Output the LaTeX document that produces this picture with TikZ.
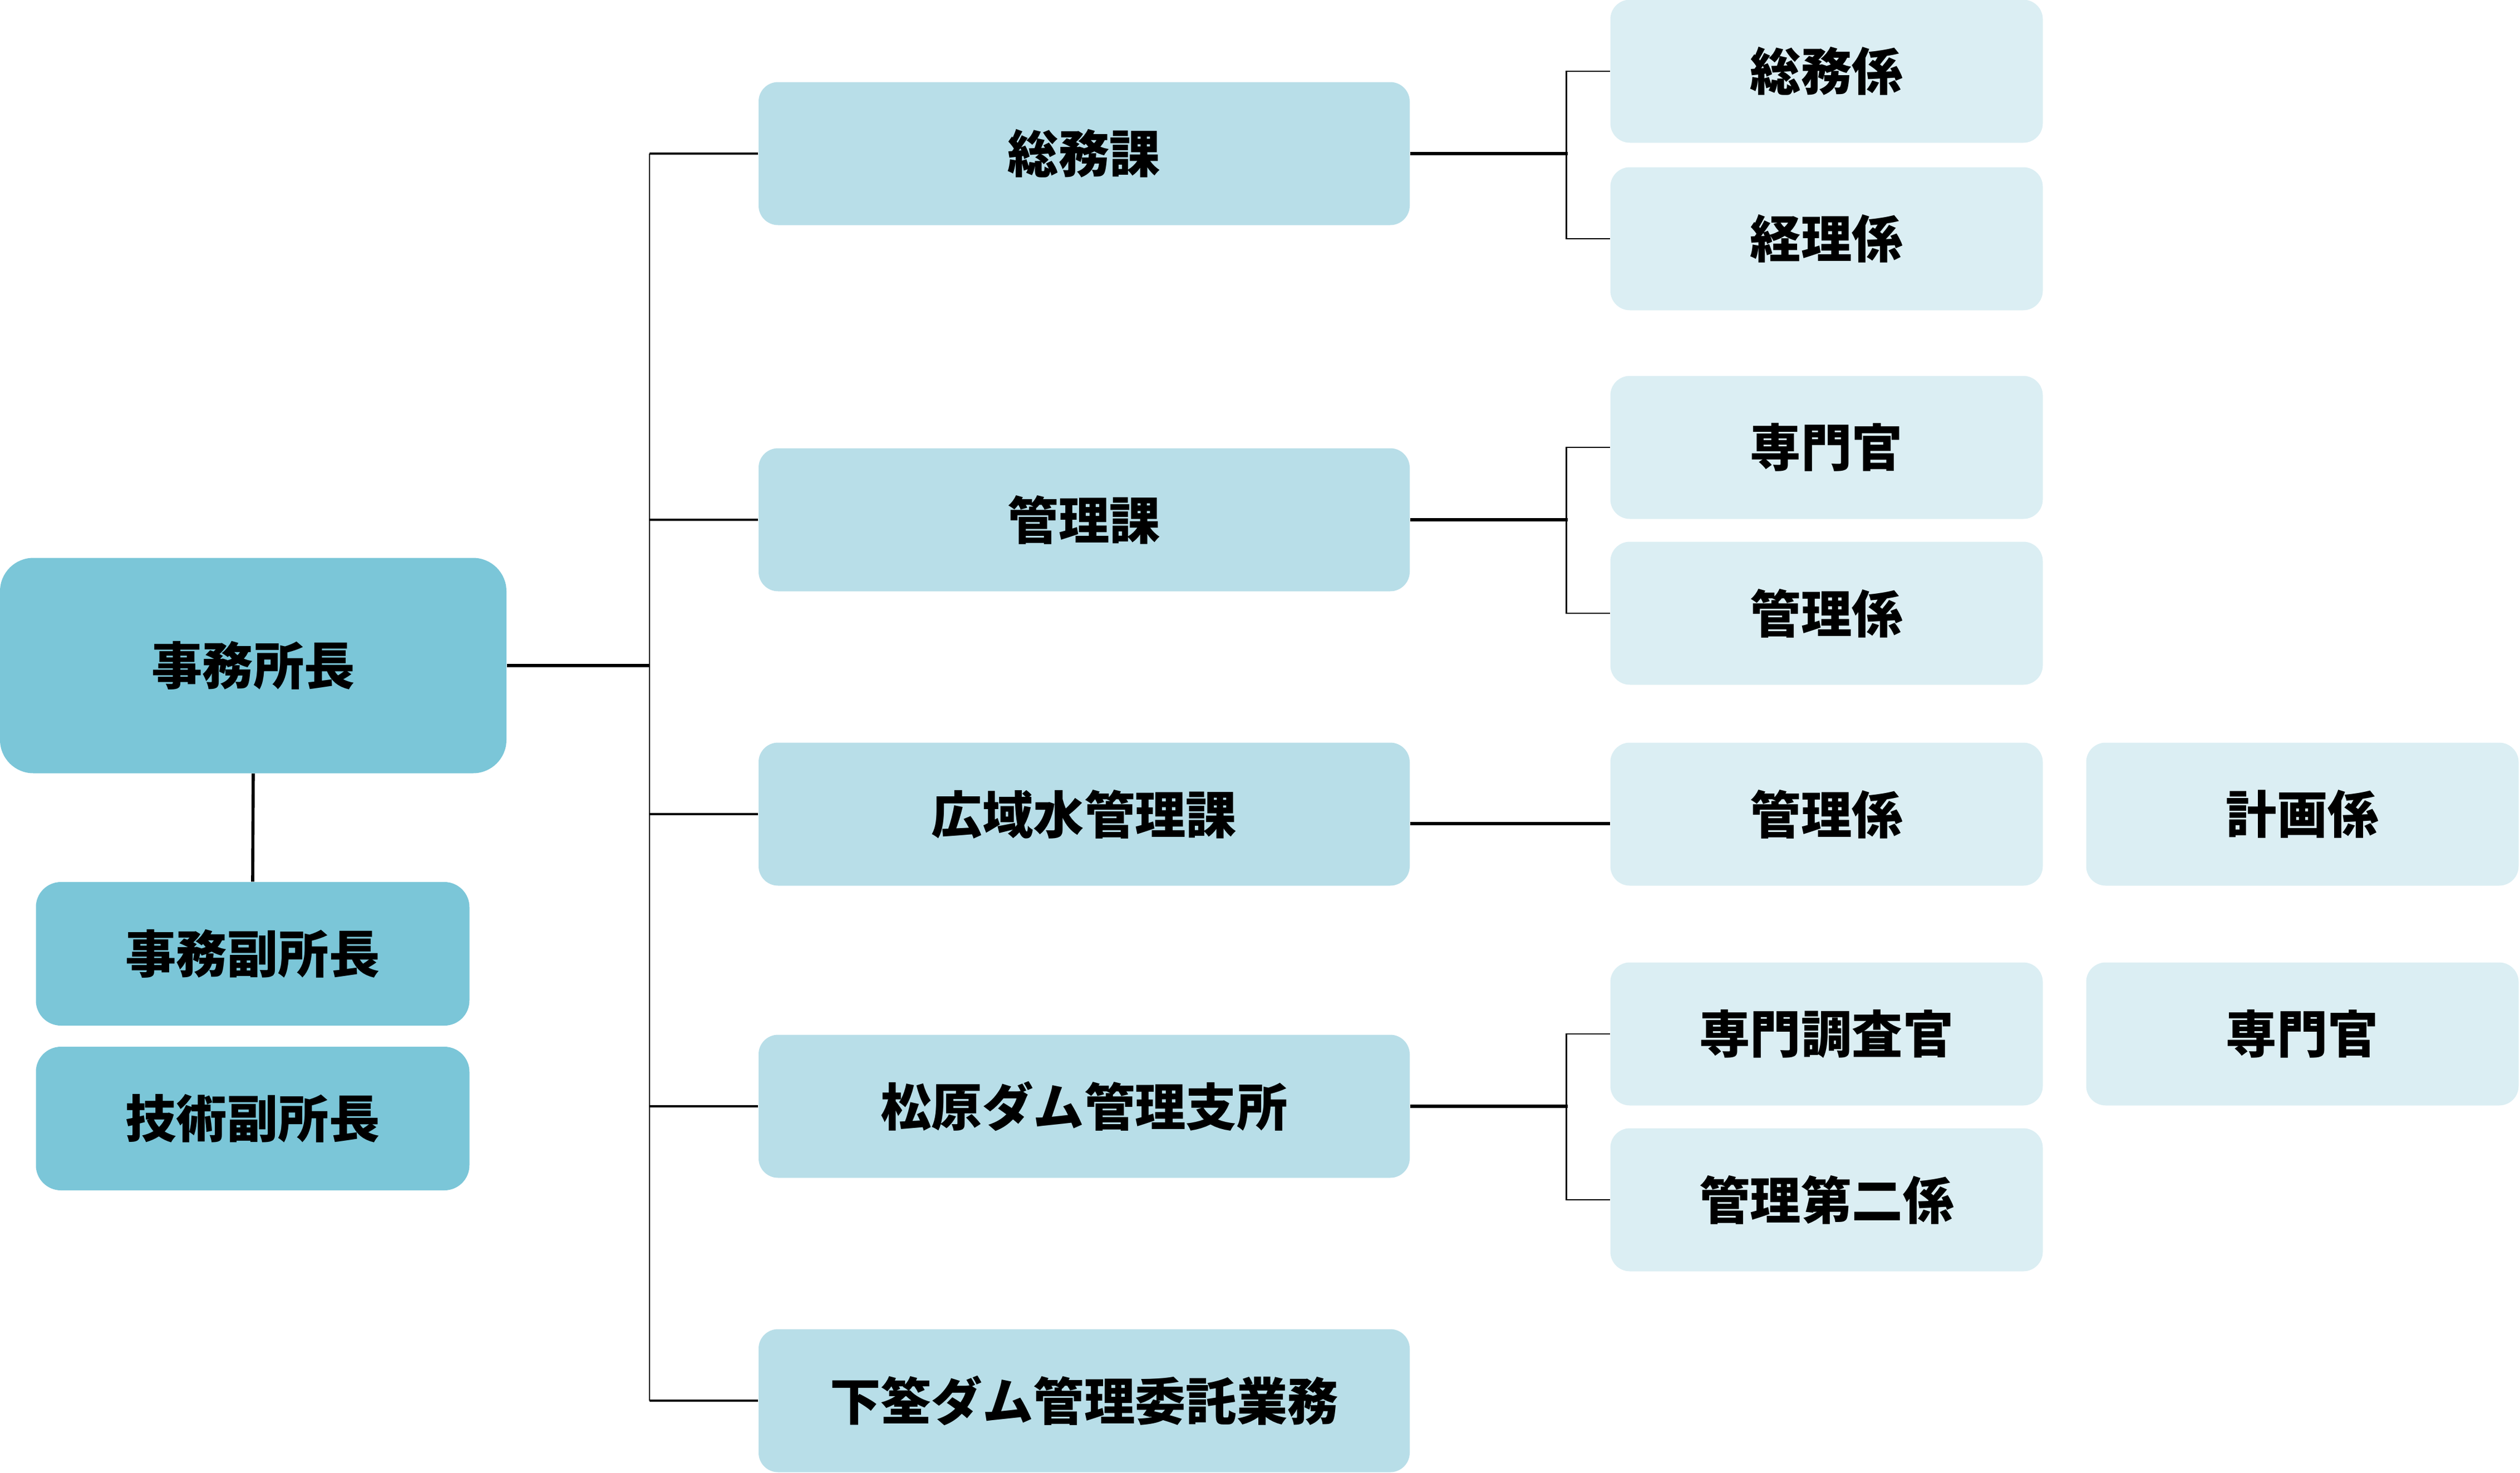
\documentclass[tikz,border=0pt]{standalone}
\usepackage{fontspec}
\newfontfamily\jpfont{Noto Sans CJK JP}
\usetikzlibrary{calc}
\definecolor{dunkelblau}{RGB}{123,198,216}
\definecolor{mittelblau}{RGB}{184,222,232}
\definecolor{hellblau}{RGB}{219,238,243}
\tikzset{
  box/.style={inner sep=0pt, font=\jpfont\bfseries\fontsize{26}{30}\selectfont},
  chefbox/.style={box, fill=dunkelblau, rounded corners=0.6cm, minimum width=9.1cm, minimum height=3.87cm},
  vizebox/.style={box, fill=dunkelblau, rounded corners=0.45cm, minimum width=7.79cm, minimum height=2.58cm},
  kabox/.style={box, fill=mittelblau, rounded corners=0.35cm, minimum width=11.7cm, minimum height=2.57cm},
  kakaribox/.style={box, fill=hellblau, rounded corners=0.35cm, minimum width=7.77cm, minimum height=2.57cm},
  hauptlinie/.style={line width=1.6pt},
  astlinie/.style={line width=1.1pt},
  buslinie/.style={line width=0.8pt}
}
\begin{document}
\begin{tikzpicture}
\useasboundingbox (0,0) rectangle (45.28,-26.47);

% leitung
\node[chefbox] (chef) at (4.55, -11.96) {事務所長};
\node[vizebox] (vize1) at (4.54, -17.14) {事務副所長};
\node[vizebox] (vize2) at (4.54, -20.10) {技術副所長};

% kaka
\node[kabox] (soumu) at (19.48, -2.76) {総務課};
\node[kabox] (kanri) at (19.48, -9.34) {管理課};
\node[kabox] (kouiki) at (19.48, -14.63) {広域水管理課};
\node[kabox] (matsu) at (19.48, -19.88) {松原ダム管理支所};
\node[kabox] (shimo) at (19.48, -25.17) {下筌ダム管理委託業務};

% kakari
\node[kakaribox] (soumuk) at (32.82, -1.28) {総務係};
\node[kakaribox] (keirik) at (32.82, -4.29) {経理係};
\node[kakaribox] (senmon1) at (32.82, -8.04) {専門官};
\node[kakaribox] (kanrik1) at (32.82, -11.02) {管理係};
\node[kakaribox] (kanrik2) at (32.82, -14.63) {管理係};
\node[kakaribox] (chousa) at (32.82, -18.58) {専門調査官};
\node[kakaribox] (kanrik3) at (32.82, -21.56) {管理第二係};
\node[kakaribox] (keikaku) at (41.37, -14.63) {計画係};
\node[kakaribox] (senmon2) at (41.37, -18.58) {専門官};

% linien
\coordinate (bus) at (11.67, -2.76);
\draw[hauptlinie] (chef.south) -- (vize1.north);
\draw[hauptlinie] (chef.east) -- (chef.east -| bus);
\draw[buslinie] (soumu.west -| bus) -- (shimo.west -| bus);
\foreach \ka in {soumu, kanri, kouiki, matsu, shimo}
  \draw[astlinie] (\ka.west) -- (\ka.west -| bus);

\draw[hauptlinie] (soumu.east) -- ++(2.83, 0);
\draw[buslinie] (soumuk.west) -- ++(-0.78, 0) |- (keirik.west);
\draw[hauptlinie] (kanri.east) -- ++(2.83, 0);
\draw[buslinie] (senmon1.west) -- ++(-0.78, 0) |- (kanrik1.west);
\draw[hauptlinie] ([yshift=-0.17cm]kouiki.east) -- ([yshift=-0.17cm]kanrik2.west);
\draw[hauptlinie] (matsu.east) -- ++(2.83, 0);
\draw[buslinie] (chousa.west) -- ++(-0.78, 0) |- (kanrik3.west);
\end{tikzpicture}
\end{document}
